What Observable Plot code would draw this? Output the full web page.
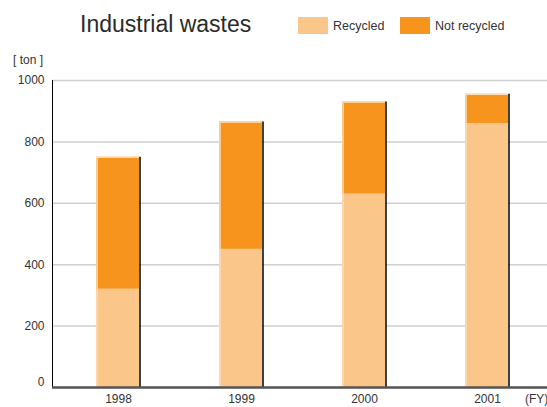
<!DOCTYPE html>
<html>
<head>
<meta charset="utf-8">
<script src="https://cdn.jsdelivr.net/npm/d3@7"></script>
<script src="https://cdn.jsdelivr.net/npm/@observablehq/plot@0.6"></script>
<style>
  html, body { margin: 0; padding: 0; background: #fff; }
  body { width: 547px; height: 407px; overflow: hidden; position: relative;
         font-family: "Liberation Sans", Arial, sans-serif; color: #333; }
  #head { position: relative; height: 72px; }
  #title { position: absolute; left: 80px; top: 11px; font-size: 23px; color: #2b2b2b; }
  .key { position: absolute; top: 17px; height: 17px; display: flex; align-items: center; font-size: 12.5px; }
  .sw { width: 30px; height: 17px; margin-right: 5px; }
  #unit { position: absolute; left: 13px; top: 53px; font-size: 12px; }
  #fy { position: absolute; left: 525px; top: 392px; font-size: 12px; white-space: nowrap; }
  svg { overflow: visible; }
</style>
</head>
<body>
<div id="head">
  <div id="title">Industrial wastes</div>
  <div class="key" style="left:298px"><div class="sw" style="background:#FBC68A"></div>Recycled</div>
  <div class="key" style="left:400px"><div class="sw" style="background:#F7941E"></div>Not recycled</div>
  <div id="unit">[ ton ]</div>
</div>
<div id="chart"></div>
<div id="fy">(FY)</div>
<script>
// Industrial wastes per fiscal year, in tons
const years = ["1998", "1999", "2000", "2001"];
const recycled = [320, 450, 630, 860];
const notRecycled = [430, 415, 300, 95];
const yTicks = [0, 200, 400, 600, 800, 1000];

const colors = {"Recycled": "#FBC68A", "Not recycled": "#F7941E"};

const rows = years.flatMap((year, i) => [
  {year, kind: "Recycled", tons: recycled[i]},
  {year, kind: "Not recycled", tons: notRecycled[i]}
]);
const totals = years.map((year, i) => ({year, total: recycled[i] + notRecycled[i]}));

const chart = Plot.plot({
  width: 547,
  height: 335,
  marginTop: 8,
  marginLeft: 52,
  marginRight: 0,
  marginBottom: 20,
  style: {fontFamily: "Liberation Sans, Arial, sans-serif", fontSize: "12px", color: "#333", overflow: "visible"},
  x: {domain: years, range: [56.5, 548.5], paddingInner: 0.64, paddingOuter: 0.32, label: null},
  y: {domain: [0, 1000], label: null},
  color: {domain: Object.keys(colors), range: Object.values(colors)},
  marks: [
    Plot.gridY(yTicks, {stroke: "#cfcfcf", strokeOpacity: 1, strokeWidth: 1.5}),
    Plot.axisY(yTicks.filter((t) => t > 0), {tickSize: 0, tickPadding: 8, fontSize: 12, tickFormat: "d", label: null}),
    Plot.axisY([0], {tickSize: 0, tickPadding: 8, fontSize: 12, tickFormat: "d", dy: -5, label: null}),
    Plot.axisX({tickSize: 0, tickPadding: 7, fontSize: 12, label: null}),
    Plot.barY(rows, Plot.stackY({x: "year", y: "tons", fill: "kind", order: ["Recycled", "Not recycled"], insetRight: 1})),
    // light highlight on the left and top of each column
    Plot.ruleX(totals, {x: "year", y1: 0, y2: "total", dx: -21.5, stroke: "#FDDDB6", strokeWidth: 1.5}),
    Plot.ruleY(totals, {x1: "year", x2: "year", y: "total", stroke: "#FDDDB6", strokeWidth: 1.5}),
    // dark edge on the right of each column
    Plot.ruleX(totals, {x: "year", y1: 0, y2: "total", dx: 21.5, stroke: "#000", strokeWidth: 1.5}),
    Plot.frame({anchor: "left", stroke: "#000"}),
    Plot.ruleY([0], {stroke: "#555", strokeWidth: 2.5})
  ]
});
document.getElementById("chart").append(chart);
</script>
</body>
</html>
